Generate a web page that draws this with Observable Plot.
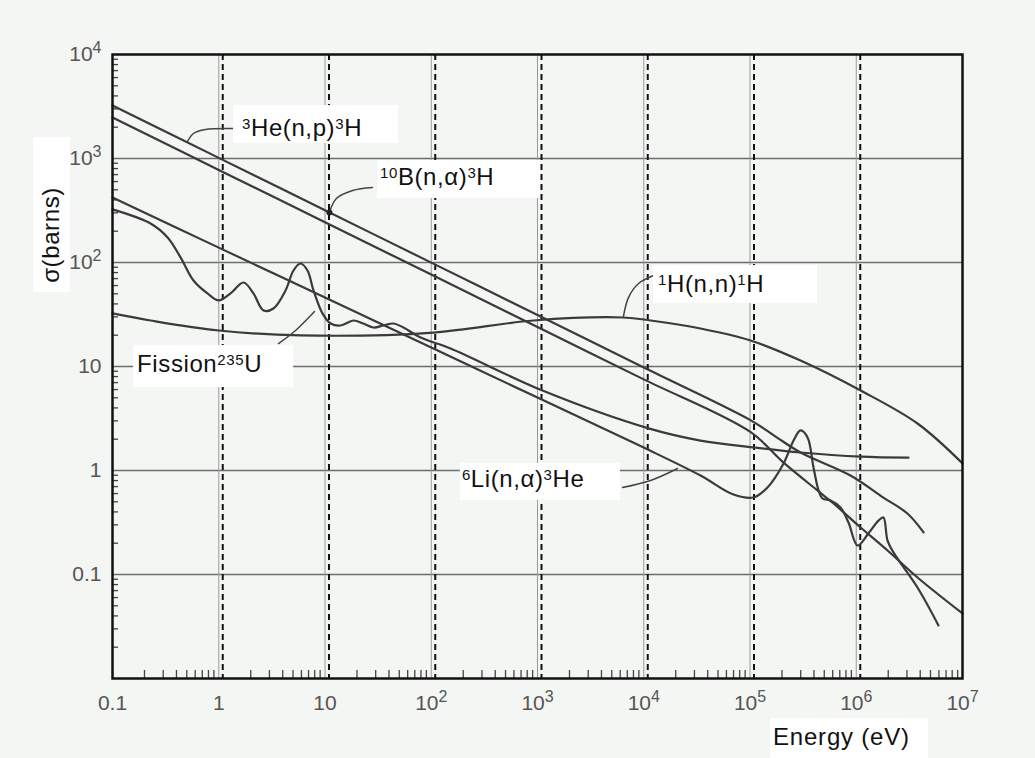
<!DOCTYPE html>
<html>
<head>
<meta charset="utf-8">
<script src="https://cdn.jsdelivr.net/npm/d3@7"></script>
<script src="https://cdn.jsdelivr.net/npm/@observablehq/plot@0.6"></script>
<style>
  html, body { margin: 0; padding: 0; background: #f3f6f3; }
  #chart { width: 1035px; height: 758px; overflow: hidden; }
</style>
</head>
<body>
<div id="chart"></div>
<script>
// ---------- axis ticks ----------
const xTicks = [0.1, 1, 10, 100, 1e3, 1e4, 1e5, 1e6, 1e7];
const xTickLabels = ["0.1", "1", "10", "10^{2}", "10^{3}", "10^{4}", "10^{5}", "10^{6}", "10^{7}"];
const yTicks = [0.1, 1, 10, 100, 1e3, 1e4];
const yTickLabels = ["0.1", "1", "10", "10^{2}", "10^{3}", "10^{4}"];
const gridY = [0.1, 1, 10, 100, 1e3];
const gridX = [1, 10, 100, 1e3, 1e4, 1e5, 1e6];
const minorMultipliers = [2, 3, 4, 5, 6, 7, 8, 9];
const xDecades = [0.1, 1, 10, 100, 1e3, 1e4, 1e5, 1e6];
const yDecades = [0.01, 0.1, 1, 10, 100, 1e3];

// ---------- series: [energy (eV), cross section (barns)] ----------
const seriesNames = ["3He(n,p)3H", "10B(n,a)3H", "6Li(n,a)3He", "Fission 235U", "1H(n,n)1H"];
const he3 = [[0.1,3236],[1,1014],[10,318],[100,99.7],[1e3,31.3],[1e4,9.80],[1e5,3.07],[1.74e5,2.12],[2.99e5,1.49],[8.83e5,0.895],[1.80e6,0.549],[3.03e6,0.386],[4.30e6,0.254]];
const b10 = [[0.1,2477],[1,776],[10,244],[100,76.5],[1e3,24.0],[1e4,7.52],[1e5,2.36],[2.07e5,1.19],[4.31e5,0.643],[6.11e5,0.482],[1.10e6,0.283],[1.97e6,0.170],[3.77e6,0.0936],[1e7,0.0422]];
const li6 = [[0.1,422],[1,139],[10,46.0],[100,15.2],[1e3,5.03],[1e4,1.66],[3.42e4,0.895],[7.0e4,0.587],[1.08e5,0.55],[1.46e5,0.687],[2.07e5,1.17],[2.57e5,1.94],[2.99e5,2.43],[3.48e5,2.08],[3.96e5,1.07],[4.42e5,0.643],[4.81e5,0.538],[5.73e5,0.515],[7.11e5,0.441],[8.45e5,0.316],[1.03e6,0.190],[1.30e6,0.248],[1.62e6,0.330],[1.80e6,0.353],[1.97e6,0.212],[2.24e6,0.163],[3.77e6,0.075],[5.94e6,0.0324]];
const u235 = [[0.1,324],[0.228,237],[0.330,174],[0.437,112],[0.578,67.1],[0.783,50.4],[1,43.2],[1.29,50.4],[1.71,64.2],[2.12,50.4],[2.64,34.5],[3.27,36.1],[4.25,53.8],[5.05,83.8],[5.88,97.8],[6.84,83.8],[7.80,53.8],[9.47,32.4],[11.3,25.9],[14.0,24.8],[18.5,27.7],[23.0,25.9],[28.6,23.7],[35.5,24.8],[44.2,25.9],[54.8,23.7],[79.3,19.0],[152,14.9],[1114,5.87],[1.11e4,2.54],[3.42e4,1.94],[1.13e5,1.66],[2.99e5,1.49],[1.10e6,1.36],[3.10e6,1.33]];
const h1 = [[0.1,32.4],[0.228,27.7],[1,22.2],[5.88,19.9],[105,21.2],[916,27.7],[6440,29.6],[1.16e4,27.7],[3.42e4,23.2],[1.01e5,17.8],[2.99e5,11.4],[1.10e6,5.87],[3.77e6,2.83],[1e7,1.17]];

// ---------- annotation leaders (data coordinates) ----------
const leaderHe = [[1.377,1943],[0.750,1901],[0.578,1740],[0.508,1457]];
const leaderB = [[28.0,526],[18.2,492],[12.8,412],[11.0,303]];
const leaderH = [[12360,75.0],[8930,62.8],[7180,46.0],[6440,30.3]];
const leaderLi = [[6310,0.687],[11600,0.802],[20800,1.045]];
const leaderU = [[3.65,16.6],[5.28,22.2],[7.96,33.8]];
const leaderDot = [[11.0,303]];

// ---------- label texts ----------
const labelTexts = ["^{3}He(n,p)^{3}H", "^{10}B(n,α)^{3}H", "^{1}H(n,n)^{1}H", "^{6}Li(n,α)^{3}He", "Fission^{235}U"];
const labelAnchors = [[1.377,3233],[31.2,957],[12360,93.5],[188,1.17],[0.158,15.9]];
const xTitle = "Energy (eV)";
const yTitle = "σ(barns)";

// ---------- build tables ----------
const seriesData = [he3, b10, li6, u235, h1];
const rows = seriesData.flatMap((arr, i) => arr.map(([E, s]) => ({series: seriesNames[i], E, s})));
const leaders = [leaderHe, leaderB, leaderH, leaderLi, leaderU]
  .flatMap((arr, i) => arr.map(([E, s]) => ({id: i, E, s})));
const xMinor = xDecades.flatMap(d => minorMultipliers.map(m => d * m));
const yMinor = yDecades.flatMap(d => minorMultipliers.map(m => d * m));

const W = 1035, H = 758, mL = 112, mR = 73, mT = 54, mB = 80;
const innerW = W - mL - mR, innerH = H - mT - mB;

const chart = Plot.plot({
  width: W, height: H,
  marginLeft: mL, marginRight: mR, marginTop: mT, marginBottom: mB,
  style: {background: "transparent", fontFamily: "'Liberation Sans', Arial, sans-serif", fontSize: "21px", color: "#555"},
  x: {type: "log", domain: [0.1, 1e7], ticks: xTicks, tickFormat: d => xTickLabels[xTicks.indexOf(d)], tickSize: 0, tickPadding: 17, label: null},
  y: {type: "log", domain: [0.01, 1e4], ticks: yTicks, tickFormat: d => yTickLabels[yTicks.indexOf(d)], tickSize: 0, tickPadding: 11, label: null},
  marks: [
    Plot.ruleY(gridY, {stroke: "#6e6e6e", strokeWidth: 1.6}),
    Plot.ruleX(gridX, {stroke: "#9a9a9a", strokeWidth: 1}),
    Plot.ruleX(gridX, {stroke: "#111", strokeWidth: 2, strokeDasharray: "6,4", dx: 4}),
    Plot.tickX(xMinor, {x: d => d, stroke: "#444", strokeWidth: 1.3, insetTop: innerH - 8}),
    Plot.tickY(yMinor, {y: d => d, stroke: "#444", strokeWidth: 1.3, insetRight: innerW - 6}),
    Plot.line(rows, {x: "E", y: "s", z: "series", stroke: "#3a3a3a", strokeWidth: 2.2, curve: "catmull-rom"}),
    Plot.line(leaders, {x: "E", y: "s", z: "id", stroke: "#444", strokeWidth: 1.5, curve: "catmull-rom"}),
    Plot.dot(leaderDot, {x: d => d[0], y: d => d[1], r: 3, fill: "#222"}),
    Plot.frame({stroke: "#111", strokeWidth: 2.5})
  ]
});
document.getElementById("chart").appendChild(chart);

// ---------- rich text helper (superscripts) ----------
function fillRich(t, str, supSize, rise) {
  const parts = str.split(/(\^\{[^}]*\})/).filter(s => s.length);
  let raised = false;
  for (const p of parts) {
    const m = p.match(/^\^\{([^}]*)\}$/);
    if (m) {
      t.append("tspan").attr("font-size", supSize).attr("dy", raised ? 0 : -rise).text(m[1]);
      raised = true;
    } else {
      t.append("tspan").attr("dy", raised ? rise : 0).text(p);
      raised = false;
    }
  }
}

const svg = d3.select(chart);
// tick labels with superscripts
svg.selectAll("text").each(function() {
  const s = this.textContent;
  if (s.includes("^{")) {
    const t = d3.select(this);
    t.text(null);
    fillRich(t, s, 16, 8);
  }
});

const xs = chart.scale("x"), ys = chart.scale("y");
const fx = xs.apply ? v => xs.apply(v) : d3.scaleLog(xs.domain, xs.range);
const fy = ys.apply ? v => ys.apply(v) : d3.scaleLog(ys.domain, ys.range);

// ---------- annotation boxes ----------
const boxSpec = [
  {w: 165, h: 38, tx: 9, ty: 31},
  {w: 163, h: 38, tx: 3, ty: 25},
  {w: 164, h: 38, tx: 5, ty: 27},
  {w: 160, h: 37, tx: 2, ty: 24},
  {w: 160, h: 42, tx: 4, ty: 27}
];
const ann = svg.append("g")
  .attr("font-family", "'Liberation Sans', Arial, sans-serif")
  .attr("fill", "#111")
  .attr("text-anchor", "start");
labelTexts.forEach((txt, i) => {
  const x = fx(labelAnchors[i][0]), y = fy(labelAnchors[i][1]);
  const b = boxSpec[i];
  ann.append("rect").attr("x", x).attr("y", y).attr("width", b.w).attr("height", b.h).attr("fill", "#fff");
  const t = ann.append("text").attr("x", x + b.tx).attr("y", y + b.ty)
    .attr("text-anchor", "start").attr("font-size", 24).attr("letter-spacing", "0.6px");
  fillRich(t, txt, 15, 7);
});

// axis titles
ann.append("rect").attr("x", W - mR - 192).attr("y", H - 40).attr("width", 158).attr("height", 40).attr("fill", "#fff");
ann.append("text").attr("x", W - mR - 189).attr("y", H - 13).attr("text-anchor", "start")
  .attr("font-size", 24).attr("letter-spacing", "0.8px").text(xTitle);
ann.append("rect").attr("x", mL - 79).attr("y", mT + 83).attr("width", 37).attr("height", 155).attr("fill", "#fff");
ann.append("text").attr("transform", `translate(${mL - 53},${mT + 181}) rotate(-90)`)
  .attr("text-anchor", "middle").attr("font-size", 24).attr("letter-spacing", "0.6px").text(yTitle);
</script>
</body>
</html>
